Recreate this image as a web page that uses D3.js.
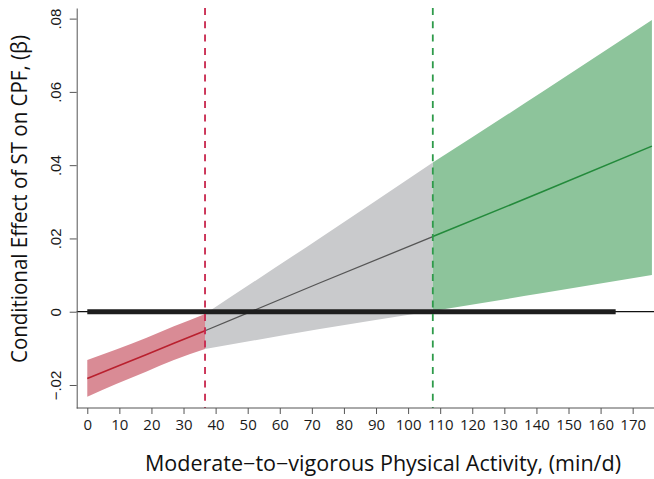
<!DOCTYPE html>
<html>
<head>
<meta charset="utf-8">
<script src="https://cdn.jsdelivr.net/npm/d3@7"></script>
<style>
  body { margin: 0; background: #fff; }
  svg { display: block; font-family: "Open Sans", "Noto Sans", sans-serif; }
</style>
</head>
<body>
<div id="chart"></div>
<script>
// values
var xTicks = [0, 10, 20, 30, 40, 50, 60, 70, 80, 90, 100, 110, 120, 130, 140, 150, 160, 170];
var yTicks = [-0.02, 0, 0.02, 0.04, 0.06, 0.08];
var yTickLabels = ["\u2212.02", "0", ".02", ".04", ".06", ".08"];

// Johnson-Neyman cut points
var jnLow = 36.7;
var jnHigh = 107.7;

// range of observed MVPA (thick bar on zero line)
var dataRange = [0, 164.7];

// red region (significant negative)
var redX     = [0, 9, 18.5, 27, 36.7];
var redEst   = [-0.0182, -0.0150, -0.0117, -0.0086, -0.0052];
var redUpper = [-0.0132, -0.0103, -0.0071, -0.0040, -0.0006];
var redLower = [-0.0232, -0.0197, -0.0163, -0.0132, -0.0102];

// grey region (not significant)
var greyX     = [36.7, 72, 107.7];
var greyEst   = [-0.0052, 0.0077, 0.0205];
var greyUpper = [-0.0006, 0.0198, 0.0407];
var greyLower = [-0.0102, -0.0048, 0.0002];

// green region (significant positive)
var greenX     = [107.7, 142, 176];
var greenEst   = [0.0205, 0.0328, 0.0452];
var greenUpper = [0.0407, 0.0601, 0.0796];
var greenLower = [0.0002, 0.0051, 0.0100];

var width = 654;
var height = 479;

var svg = d3.select("#chart")
  .append("svg")
    .attr("width", width)
    .attr("height", height);

var x = d3.scaleLinear().domain([-3.3, 176.65]).range([76.7, 654]);
var y = d3.scaleLinear().domain([-0.02628, 0.0829]).range([408, 8]);

function zip(xs, a, b) {
  return xs.map(function(d, i) { return {x: d, hi: a[i], lo: b ? b[i] : null}; });
}

var area = d3.area()
  .curve(d3.curveMonotoneX)
  .x(function(d) { return x(d.x); })
  .y0(function(d) { return y(d.lo); })
  .y1(function(d) { return y(d.hi); });

var line = d3.line()
  .x(function(d) { return x(d.x); })
  .y(function(d) { return y(d.hi); });

// bands
svg.append("path").datum(zip(greyX, greyUpper, greyLower))
  .attr("d", area).attr("fill", "#c9cacc");
svg.append("path").datum(zip(redX, redUpper, redLower))
  .attr("d", area).attr("fill", "#d98b95");
svg.append("path").datum(zip(greenX, greenUpper, greenLower))
  .attr("d", area).attr("fill", "#8dc49b");

// zero line
svg.append("line")
  .attr("x1", x.range()[0]).attr("x2", width)
  .attr("y1", y(0)).attr("y2", y(0))
  .attr("stroke", "#111").attr("stroke-width", 1.3);

// estimate lines
svg.append("path").datum(zip(greyX, greyEst))
  .attr("d", line).attr("fill", "none").attr("stroke", "#555").attr("stroke-width", 1.3);
svg.append("path").datum(zip(redX, redEst))
  .attr("d", line).attr("fill", "none").attr("stroke", "#b9202e").attr("stroke-width", 1.6);
svg.append("path").datum(zip(greenX, greenEst))
  .attr("d", line).attr("fill", "none").attr("stroke", "#238a3b").attr("stroke-width", 1.6);

// observed range bar
svg.append("line")
  .attr("x1", x(dataRange[0])).attr("x2", x(dataRange[1]))
  .attr("y1", y(0)).attr("y2", y(0))
  .attr("stroke", "#1e1e1e").attr("stroke-width", 5);

// J-N dashed lines
svg.append("line")
  .attr("x1", x(jnLow)).attr("x2", x(jnLow))
  .attr("y1", y.range()[1]).attr("y2", y.range()[0])
  .attr("stroke", "#c8264c").attr("stroke-width", 1.8)
  .attr("stroke-dasharray", "7,6.3");
svg.append("line")
  .attr("x1", x(jnHigh)).attr("x2", x(jnHigh))
  .attr("y1", y.range()[1]).attr("y2", y.range()[0])
  .attr("stroke", "#2e9b4a").attr("stroke-width", 1.8)
  .attr("stroke-dasharray", "7,6.3");

// axes
var xAxis = svg.append("g")
  .attr("transform", "translate(0," + y.range()[0] + ")")
  .call(d3.axisBottom(x).tickValues(xTicks).tickSize(6).tickPadding(5).tickSizeOuter(0));
xAxis.select(".domain").attr("stroke", "#555").attr("d", "M" + x.range()[0] + ",0H" + width);
xAxis.selectAll(".tick line").attr("stroke", "#555");
xAxis.selectAll(".tick text")
  .style("font-size", "15px").attr("fill", "#1a1a1a")
  .attr("font-family", "'Open Sans', sans-serif");

var yAxis = svg.append("g")
  .attr("transform", "translate(" + x.range()[0] + ",0)")
  .call(d3.axisLeft(y).tickValues(yTicks).tickSize(7).tickSizeOuter(0)
    .tickFormat(function(d, i) { return yTickLabels[i]; }));
yAxis.select(".domain").attr("stroke", "#555");
yAxis.selectAll(".tick line").attr("stroke", "#555");
yAxis.selectAll(".tick text")
  .style("font-size", "15px").attr("fill", "#1a1a1a")
  .attr("x", null).attr("dy", null)
  .attr("text-anchor", "middle")
  .attr("transform", "translate(-16,0) rotate(-90)");

// titles
svg.append("text")
  .attr("x", 383).attr("y", 470.5)
  .attr("text-anchor", "middle")
  .attr("font-size", "21px").attr("fill", "#111")
  .attr("textLength", 476).attr("lengthAdjust", "spacingAndGlyphs")
  .text("Moderate\u2212to\u2212vigorous Physical Activity, (min/d)");

svg.append("text")
  .attr("transform", "translate(27,199) rotate(-90)")
  .attr("text-anchor", "middle")
  .attr("font-size", "21px").attr("fill", "#111")
  .attr("textLength", 328).attr("lengthAdjust", "spacingAndGlyphs")
  .text("Conditional Effect of ST on CPF, (\u03b2)");
</script>
</body>
</html>
